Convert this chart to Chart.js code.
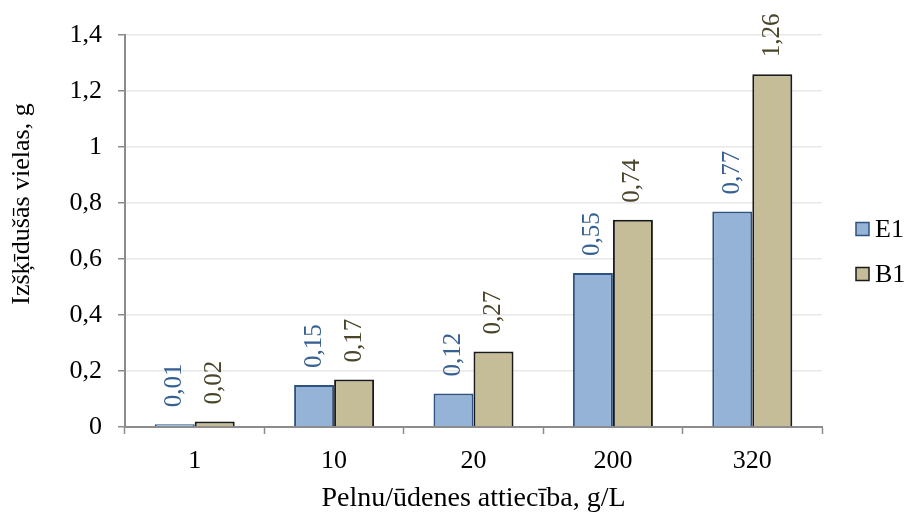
<!DOCTYPE html>
<html>
<head>
<meta charset="utf-8">
<script src="https://cdn.jsdelivr.net/npm/chart.js@4"></script>
<style>
  html, body { margin: 0; padding: 0; background: #fff; }
  #wrap { width: 906px; height: 515px; }
</style>
</head>
<body>
<div id="wrap"><canvas id="chart" width="906" height="515"></canvas></div>
<script>
// data
var categories = ["1", "10", "20", "200", "320"];
var seriesNames = ["E1", "B1"];
var e1Values = [0.01, 0.15, 0.12, 0.55, 0.77];
var b1Values = [0.02, 0.17, 0.27, 0.74, 1.26];
var yTicks = [0, 0.2, 0.4, 0.6, 0.8, 1, 1.2, 1.4];

var serif = "'Liberation Serif', 'Times New Roman', serif";
var labelColors = ["#376092", "#4A452A"];
var axisGray = "#8C8C8C";
var yTitle = "Izšķīdušās vielas, g";

// value labels standing on top of the bars, turned 90 degrees
var barLabels = {
  id: "barLabels",
  afterDatasetsDraw: function(chart) {
    var ctx = chart.ctx;
    chart.data.datasets.forEach(function(ds, di) {
      var meta = chart.getDatasetMeta(di);
      meta.data.forEach(function(bar, i) {
        var txt = String(ds.data[i]).replace(".", ",");
        ctx.save();
        ctx.translate(bar.x, bar.y - 17);
        ctx.rotate(-Math.PI / 2);
        ctx.font = "25px " + serif;
        ctx.fillStyle = labelColors[di];
        ctx.textAlign = "left";
        ctx.textBaseline = "middle";
        ctx.fillText(txt, 0, 0);
        ctx.restore();
      });
    });
  }
};

// legend on the right + the y title (sits a bit above the middle in the original)
var sideBits = {
  id: "sideBits",
  afterDraw: function(chart) {
    var ctx = chart.ctx;
    var area = chart.chartArea;
    var x = area.right + 34;
    var mid = chart.height / 2 - 6;
    chart.data.datasets.forEach(function(ds, i) {
      var cy = mid + (i - 0.5) * 45;
      ctx.save();
      ctx.fillStyle = ds.backgroundColor;
      ctx.strokeStyle = ds.borderColor;
      ctx.lineWidth = 1.5;
      ctx.fillRect(x, cy - 6.5, 13, 13);
      ctx.strokeRect(x, cy - 6.5, 13, 13);
      ctx.fillStyle = "#000";
      ctx.font = "26px " + serif;
      ctx.textAlign = "left";
      ctx.textBaseline = "middle";
      ctx.fillText(ds.label, x + 19, cy + 1);
      ctx.restore();
    });

    ctx.save();
    ctx.translate(29, area.top + 169);
    ctx.rotate(-Math.PI / 2);
    ctx.font = "26px " + serif;
    ctx.fillStyle = "#000";
    ctx.textAlign = "center";
    ctx.textBaseline = "alphabetic";
    ctx.fillText(yTitle, 0, 0);
    ctx.restore();
  }
};

new Chart(document.getElementById("chart"), {
  type: "bar",
  data: {
    labels: categories,
    datasets: [
      {
        label: seriesNames[0],
        data: e1Values,
        backgroundColor: "#95B3D7",
        borderColor: "#2F5380",
        borderWidth: 2,
        categoryPercentage: 0.574,
        barPercentage: 1
      },
      {
        label: seriesNames[1],
        data: b1Values,
        backgroundColor: "#C4BD97",
        borderColor: "#1A1A1A",
        borderWidth: 2,
        categoryPercentage: 0.574,
        barPercentage: 1
      }
    ]
  },
  options: {
    responsive: false,
    animation: false,
    layout: { padding: { top: 35, right: 84, left: 0, bottom: 0 } },
    plugins: {
      legend: { display: false },
      tooltip: { enabled: false }
    },
    scales: {
      x: {
        afterFit: function(scale) { scale.height = 88; },
        grid: {
          display: true,
          drawOnChartArea: false,
          offset: true,
          tickLength: 7,
          tickColor: axisGray,
          tickWidth: 1.5
        },
        border: { color: axisGray, width: 2 },
        ticks: { color: "#000", padding: 12, font: { family: serif, size: 26 } },
        title: {
          display: true,
          text: "Pelnu/ūdenes attiecība, g/L",
          color: "#000",
          font: { family: serif, size: 28 },
          padding: { top: 0, bottom: 0 }
        }
      },
      y: {
        min: 0,
        max: 1.4,
        afterBuildTicks: function(scale) {
          scale.ticks = yTicks.map(function(v) { return { value: v }; });
        },
        afterFit: function(scale) { scale.width = 125; },
        grid: { color: "#E8E8E8", lineWidth: 1.5, tickLength: 7, tickColor: axisGray },
        border: { color: axisGray, width: 2 },
        ticks: {
          color: "#000",
          padding: 16,
          font: { family: serif, size: 26 },
          callback: function(v) { return String(Math.round(v * 10) / 10).replace(".", ","); }
        },
        title: { display: false }
      }
    }
  },
  plugins: [barLabels, sideBits]
});
</script>
</body>
</html>
